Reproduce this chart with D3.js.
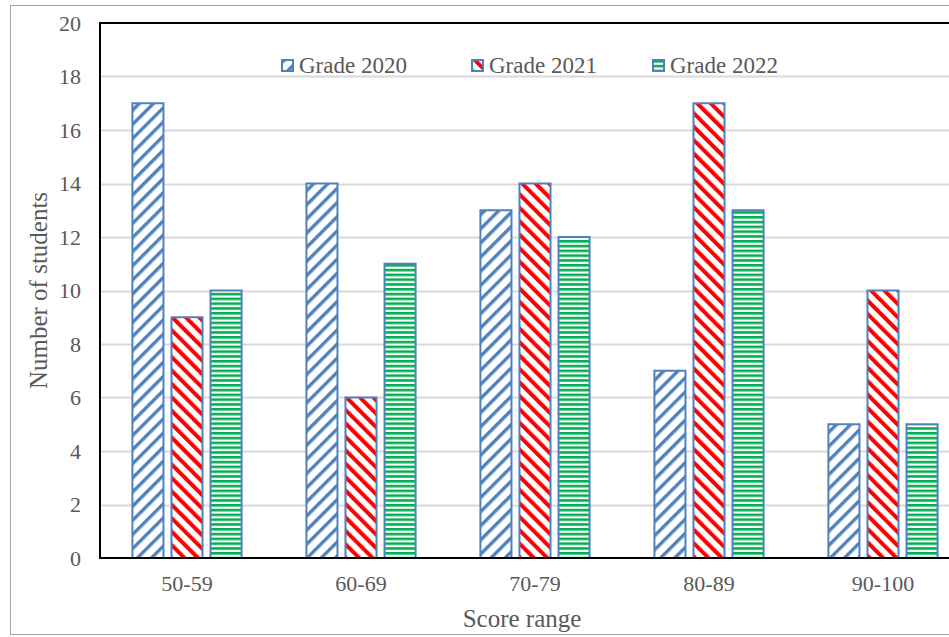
<!DOCTYPE html>
<html>
<head>
<meta charset="utf-8">
<script src="https://cdn.jsdelivr.net/npm/d3@7"></script>
<style>
  body { margin: 0; background: #fff; }
  svg { display: block; font-family: "Liberation Serif", "Times New Roman", serif; }
</style>
</head>
<body>
<svg></svg>
<script>
const width = 949;
const height = 637;

const categories = ["50-59", "60-69", "70-79", "80-89", "90-100"];
const seriesNames = ["Grade 2020", "Grade 2021", "Grade 2022"];
const grade2020 = [17, 14, 13, 7, 5];
const grade2021 = [9, 6, 14, 17, 10];
const grade2022 = [10, 11, 12, 13, 5];
const yTicks = [0, 2, 4, 6, 8, 10, 12, 14, 16, 18, 20];

const seriesValues = [grade2020, grade2021, grade2022];

const margin = { top: 23, left: 100, bottom: 79 };
const plotRight = 970; // plot runs past the window edge
const serif = '"Liberation Serif", "Times New Roman", serif';

const svg = d3.select("svg")
    .attr("width", width)
    .attr("height", height);

// fill patterns
const defs = svg.append("defs");

const p0 = defs.append("pattern")
    .attr("id", "pat0")
    .attr("patternUnits", "userSpaceOnUse")
    .attr("width", 10).attr("height", 10)
    .attr("patternTransform", "rotate(45)");
p0.append("rect").attr("width", 10).attr("height", 10).attr("fill", "#fff");
p0.append("rect").attr("width", 3.4).attr("height", 10).attr("fill", "#4f81bd");

const p1 = defs.append("pattern")
    .attr("id", "pat1")
    .attr("patternUnits", "userSpaceOnUse")
    .attr("width", 9.5).attr("height", 9.5)
    .attr("patternTransform", "rotate(-45)");
p1.append("rect").attr("width", 9.5).attr("height", 9.5).attr("fill", "#fff");
p1.append("rect").attr("width", 4).attr("height", 9.5).attr("fill", "#ff0000");

const p2 = defs.append("pattern")
    .attr("id", "pat2")
    .attr("patternUnits", "userSpaceOnUse")
    .attr("width", 10).attr("height", 4.8);
p2.append("rect").attr("width", 10).attr("height", 4.8).attr("fill", "#fff");
p2.append("rect").attr("y", 0).attr("width", 10).attr("height", 2.6).attr("fill", "#00b050");

const fills = ["url(#pat0)", "url(#pat1)", "url(#pat2)"];

// outer chart border
svg.append("rect")
    .attr("x", 10.5).attr("y", 5.5)
    .attr("width", 960).attr("height", 629)
    .attr("fill", "none")
    .attr("stroke", "#a6a6a6")
    .attr("stroke-width", 1);

const x = d3.scaleBand()
    .domain(categories)
    .range([margin.left, plotRight])
    .paddingInner(0)
    .paddingOuter(0);

const xs = d3.scaleBand()
    .domain(d3.range(seriesNames.length))
    .range([0, x.bandwidth()])
    .paddingInner(0.205)
    .paddingOuter(0.83);

const y = d3.scaleLinear()
    .domain([0, 20])
    .range([height - margin.bottom, margin.top]);

// gridlines
svg.append("g")
    .selectAll("line")
    .data(yTicks.filter(d => d > 0 && d < 20))
    .join("line")
    .attr("x1", margin.left).attr("x2", plotRight)
    .attr("y1", d => Math.round(y(d)) + 0.5)
    .attr("y2", d => Math.round(y(d)) + 0.5)
    .attr("stroke", "#d9d9d9")
    .attr("stroke-width", 2);

// bars
const group = svg.append("g")
    .selectAll("g")
    .data(seriesNames)
    .join("g");

group.each(function(name, si) {
    d3.select(this).selectAll("rect")
        .data(seriesValues[si])
        .join("rect")
        .attr("x", (d, i) => x(categories[i]) + xs(si))
        .attr("y", d => y(d))
        .attr("width", xs.bandwidth())
        .attr("height", d => y(0) - y(d))
        .attr("fill", fills[si])
        .attr("stroke", "#4f81bd")
        .attr("stroke-width", 2);
});

// plot frame (left, top, bottom)
svg.append("path")
    .attr("d", `M${plotRight},${margin.top}H${margin.left}V${y(0)}H${plotRight}`)
    .attr("fill", "none")
    .attr("stroke", "#000")
    .attr("stroke-width", 2);

// y axis labels
const yAxis = svg.append("g")
    .attr("transform", `translate(${margin.left},0)`)
    .call(d3.axisLeft(y).tickValues(yTicks).tickSize(0).tickPadding(19));
yAxis.select(".domain").remove();
yAxis.attr("font-family", serif);
yAxis.selectAll("text")
    .attr("fill", "#595959")
    .style("font-size", "22px")
    .style("font-family", serif);

// x axis labels
const xAxis = svg.append("g")
    .attr("transform", `translate(0,${y(0)})`)
    .call(d3.axisBottom(x).tickSize(0).tickPadding(17));
xAxis.select(".domain").remove();
xAxis.attr("font-family", serif);
xAxis.selectAll("text")
    .attr("fill", "#595959")
    .style("font-size", "22px")
    .style("font-family", serif);

// axis titles
svg.append("text")
    .attr("transform", `translate(47,${(margin.top + y(0)) / 2}) rotate(-90)`)
    .attr("text-anchor", "middle")
    .attr("fill", "#595959")
    .style("font-size", "25px")
    .text("Number of students");

svg.append("text")
    .attr("x", 522)
    .attr("y", 627)
    .attr("text-anchor", "middle")
    .attr("fill", "#595959")
    .style("font-size", "25px")
    .text("Score range");

// legend
const legendX = [282, 472, 653];
const legend = svg.append("g")
    .selectAll("g")
    .data(seriesNames)
    .join("g")
    .attr("transform", (d, i) => `translate(${legendX[i]},60)`);

legend.append("rect")
    .attr("width", 11).attr("height", 11)
    .attr("fill", (d, i) => fills[i])
    .attr("stroke", "#4f81bd")
    .attr("stroke-width", 2);

legend.append("text")
    .attr("x", 17)
    .attr("y", 13)
    .attr("fill", "#595959")
    .style("font-size", "23px")
    .text(d => d);
</script>
</body>
</html>
